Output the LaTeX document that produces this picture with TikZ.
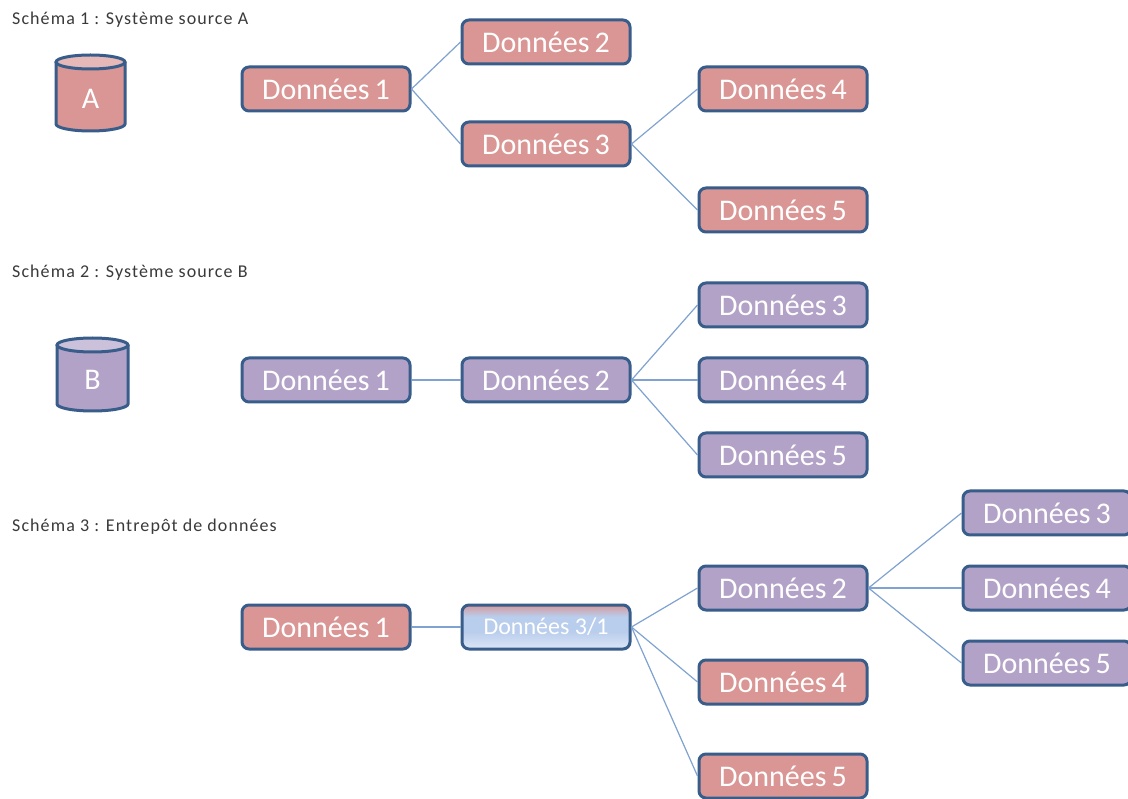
\documentclass[tikz,border=0pt]{standalone}
\usepackage{fontspec}
\setmainfont{Carlito}
\newfontfamily\lblfont[LetterSpace=6]{Carlito}
\definecolor{pinkf}{HTML}{D99694}
\definecolor{pinkt}{HTML}{E6B9B8}
\definecolor{purf}{HTML}{B3A2C7}
\definecolor{purt}{HTML}{CCC1DA}
\definecolor{bord}{HTML}{385D8A}
\definecolor{conn}{HTML}{7FA2D0}
\definecolor{lbl}{HTML}{3A3A3A}
\definecolor{gtop}{HTML}{D6999C}
\definecolor{gmid}{HTML}{B9CDEC}
\definecolor{gbot}{HTML}{DCE6F6}
\pgfdeclareverticalshading{mixgrad}{100bp}{color(0bp)=(gbot); color(25bp)=(gbot); color(45bp)=(gmid); color(62bp)=(gmid); color(75bp)=(gtop); color(100bp)=(gtop)}
\tikzset{
  box/.style={draw=bord, line width=3pt, rounded corners=7pt, minimum width=168pt, minimum height=44pt, inner sep=0pt, text=white, font=\fontsize{30}{30}\selectfont},
  pinkbox/.style={box, fill=pinkf},
  purbox/.style={box, fill=purf},
  mixbox/.style={box, shading=mixgrad, font=\fontsize{24}{24}\selectfont, text=white},
  link/.style={draw=conn, line width=1.2pt},
  schlabel/.style={anchor=west, inner sep=0pt, text=lbl, font=\lblfont\fontsize{18}{18}\selectfont},
  cyl/.style={draw=bord, line width=3pt},
  cyltext/.style={text=white, font=\fontsize{30}{30}\selectfont, inner sep=0pt}
}
\begin{document}
\begin{tikzpicture}[x=1pt,y=-1pt]
\useasboundingbox (0,0) rectangle (1128,799);
\clip (0,0) rectangle (1128,799);
\fill[white] (0,0) rectangle (1128,799);

% labels
\node[schlabel] (l1) at (12,20) {Schéma 1 : Système source A};
\node[schlabel] (l2) at (12,273) {Schéma 2 : Système source B};
\node[schlabel] (l3) at (12,527) {Schéma 3 : Entrepôt de données};

% cylinder A
\draw[cyl, fill=pinkf] (56,62) -- (56,124) arc[x radius=34.5, y radius=7, start angle=180, end angle=0] -- (125,62);
\draw[cyl, fill=pinkt] (90.5,62) ellipse[x radius=34.5, y radius=7];
\node[cyltext] (cylA) at (90.5,99) {A};

% cylinder B
\draw[cyl, fill=purf] (57,345) -- (57,404) arc[x radius=35.5, y radius=7, start angle=180, end angle=0] -- (128,345);
\draw[cyl, fill=purt] (92.5,345) ellipse[x radius=35.5, y radius=7];
\node[cyltext] (cylB) at (92.5,380) {B};

% ---- Schema 1
\node[pinkbox] (a1) at (326,89) {Données\,1};
\node[pinkbox] (a2) at (546,42) {Données\,2};
\node[pinkbox] (a3) at (546,144) {Données\,3};
\node[pinkbox] (a4) at (783,89) {Données\,4};
\node[pinkbox] (a5) at (783,210) {Données\,5};
\draw[link] (a1.east) -- (a2.west);
\draw[link] (a1.east) -- (a3.west);
\draw[link] (a3.east) -- (a4.west);
\draw[link] (a3.east) -- (a5.west);

% ---- Schema 2
\node[purbox] (b1) at (326,380) {Données\,1};
\node[purbox] (b2) at (546,380) {Données\,2};
\node[purbox] (b3) at (783,305) {Données\,3};
\node[purbox] (b4) at (783,380) {Données\,4};
\node[purbox] (b5) at (783,455) {Données\,5};
\draw[link] (b1.east) -- (b2.west);
\draw[link] (b2.east) -- (b3.west);
\draw[link] (b2.east) -- (b4.west);
\draw[link] (b2.east) -- (b5.west);

% ---- Schema 3
\node[pinkbox] (c1) at (326,627) {Données\,1};
\node[mixbox] (c31) at (546,627) {Données 3/1};
\node[purbox] (c2) at (783,588) {Données\,2};
\node[pinkbox] (c4) at (783,682) {Données\,4};
\node[pinkbox] (c5) at (783,776) {Données\,5};
\node[purbox] (d3) at (1047,513) {Données\,3};
\node[purbox] (d4) at (1047,588) {Données\,4};
\node[purbox] (d5) at (1047,663) {Données\,5};
\draw[link] (c1.east) -- (c31.west);
\draw[link] (c31.east) -- (c2.west);
\draw[link] (c31.east) -- (c4.west);
\draw[link] (c31.east) -- (c5.west);
\draw[link] (c2.east) -- (d3.west);
\draw[link] (c2.east) -- (d4.west);
\draw[link] (c2.east) -- (d5.west);
\end{tikzpicture}
\end{document}
